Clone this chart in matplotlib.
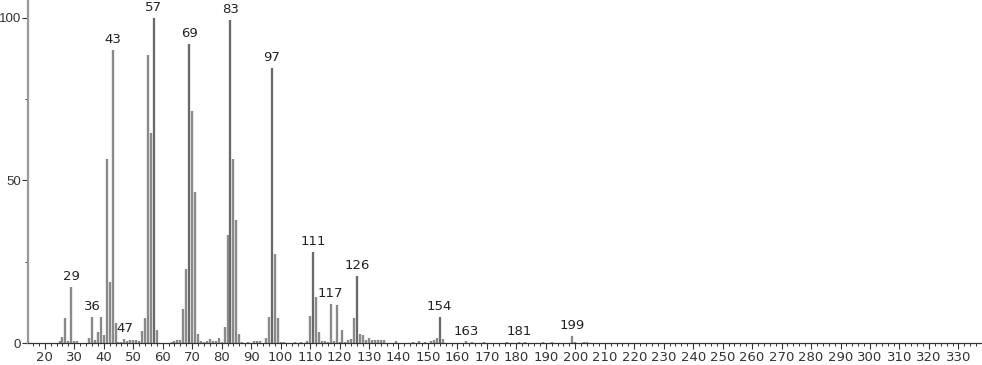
import matplotlib.pyplot as plt
from matplotlib.ticker import MultipleLocator

# m/z and relative intensity
mz = [25, 26, 27, 28, 29, 30, 31, 35, 36, 37, 38, 39, 40, 41, 42, 43, 44, 45, 46, 47,
      48, 49, 50, 51, 52, 53, 54, 55, 56, 57, 58,
      63, 64, 65, 66, 67, 68, 69, 70, 71, 72, 73, 74, 75, 76, 77, 78, 79, 80,
      81, 82, 83, 84, 85, 86, 87, 89, 91, 92, 93, 95, 96, 97, 98, 99, 100, 101,
      105, 107, 109, 110, 111, 112, 113, 114, 115, 116, 117, 118, 119, 120, 121,
      122, 123, 124, 125, 126, 127, 128, 129, 130, 131, 132, 133, 134, 135, 139,
      145, 147, 149, 151, 152, 153, 154, 155,
      163, 165, 169, 177, 181, 183, 189, 192, 199, 200, 203, 204]
intensity = [0.7, 1.8, 7.7, 0.7, 17.2, 0.5, 0.5, 1.5, 8.1, 0.8, 3.5, 8.1, 2.5, 56.5, 18.9, 90.2, 6.3, 0.3, 0.3, 1.2,
             0.6, 0.8, 0.8, 0.8, 0.6, 3.8, 7.6, 88.6, 64.5, 100, 4.0,
             0.3, 0.5, 0.8, 0.8, 10.4, 22.9, 92.0, 71.4, 46.4, 2.7, 0.5, 0.3, 0.5, 1.2, 0.5, 0.5, 1.5, 0.3,
             4.8, 33.2, 99.4, 56.6, 38.0, 2.9, 0.3, 0.4, 0.5, 0.5, 0.5, 1.6, 8.1, 84.6, 27.4, 7.6, 0.3, 0.3,
             0.3, 0.3, 0.5, 8.3, 28.1, 14.1, 3.5, 0.5, 0.5, 0.3, 11.9, 0.5, 11.7, 0.3, 4.0,
             0.3, 0.8, 1.3, 7.7, 20.7, 2.8, 2.5, 1.0, 1.5, 0.8, 0.8, 0.8, 0.8, 0.8, 0.5,
             0.3, 0.6, 0.4, 0.5, 0.8, 1.5, 8.1, 1.2,
             0.5, 0.4, 0.3, 0.3, 0.4, 0.3, 0.3, 0.3, 2.3, 0.4, 0.3, 0.3]
labeled = [29, 36, 43, 47, 57, 69, 83, 97, 111, 117, 126, 154, 163, 181, 199]

fig = plt.figure(figsize=(9.82, 3.65), dpi=100)
ax = fig.add_axes([0.0285, 0.06, 0.9715, 0.94])

ax.vlines(mz, 0, intensity, colors='#8a8a8a', linewidth=1.7)
dark = [(m, i) for m, i in zip(mz, intensity) if m in (57, 69, 83, 97, 111, 126, 154)]
ax.vlines([d[0] for d in dark], 0, [d[1] for d in dark], colors='#666666', linewidth=1.3)

for m, i in zip(mz, intensity):
    if m in labeled:
        ax.text(m, i + 1.2, str(m), ha='center', va='bottom', fontsize=9.5, color='#222222')

ax.set_xlim(14.3, 338)
ax.set_ylim(0, 105.5)
ax.set_xticks(range(20, 331, 10))
ax.xaxis.set_minor_locator(MultipleLocator(2))
ax.set_yticks([0, 50, 100])
ax.yaxis.set_minor_locator(MultipleLocator(25))
ax.tick_params(axis='x', which='major', labelsize=9.5, colors='#333333', length=4, width=0.8, pad=2)
ax.tick_params(axis='y', which='major', labelsize=9.5, colors='#333333', length=4, width=0.8, pad=1)
ax.tick_params(axis='both', which='minor', colors='#333333', length=2, width=0.7)
for lbl in ax.get_yticklabels():
    lbl.set_family('Liberation Sans')

for s in ['top', 'right']:
    ax.spines[s].set_visible(False)
ax.spines['left'].set_color('#999999')
ax.spines['left'].set_linewidth(1.6)
ax.spines['bottom'].set_color('#333333')
ax.spines['bottom'].set_linewidth(0.9)

fig.savefig('out.png', dpi=100)
